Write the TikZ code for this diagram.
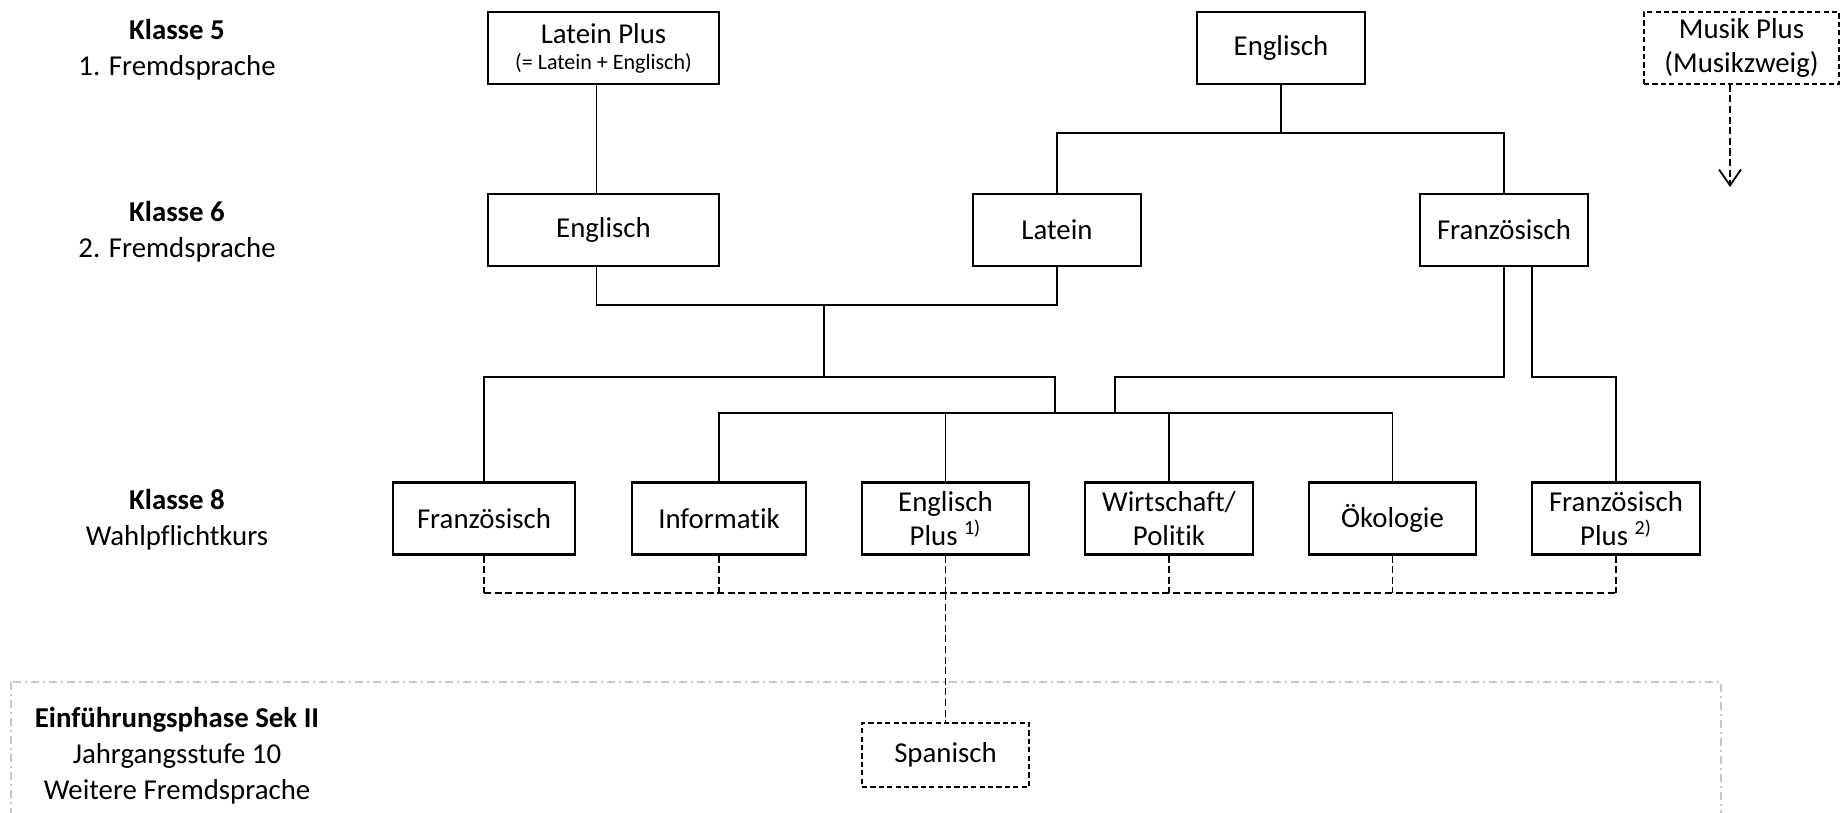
\documentclass[tikz,border=0pt]{standalone}
\usepackage{fontspec}
\setmainfont{Carlito}[Ligatures=NoCommon]
\usetikzlibrary{arrows.meta}

\begin{document}
\begin{tikzpicture}[x=0.5pt, y=-0.5pt,
  every node/.style={font=\fontsize{14.4}{17}\selectfont, align=center, inner sep=0pt},
  stufe/.style={font=\fontsize{14.4}{18}\selectfont},
  kurs/.style={draw, line width=1.1pt, minimum height=36pt},
  extra/.style={draw, line width=0.9pt, dash pattern=on 2.6pt off 1.6pt, minimum height=36pt},
  verb/.style={line width=0.9pt},
  optional/.style={verb, dash pattern=on 3.5pt off 1.8pt},
  sekII/.style={line width=0.7pt, draw=black!22, dash pattern=on 4pt off 2pt on 1pt off 2pt}]
  \clip (0,0) rectangle (1841,813);
  % Jahrgangsstufen
  \node[stufe] (k5) at (177,50) {\textbf{Klasse 5}\\1. Fremdsprache};
  \node[stufe] (k6) at (177,232) {\textbf{Klasse 6}\\2. Fremdsprache};
  \node[stufe] (k8) at (177,520) {\textbf{Klasse 8}\\Wahlpflichtkurs};
  \node[stufe] (sek) at (177,756) {\textbf{Einführungsphase Sek II}\\Jahrgangsstufe 10\\Weitere Fremdsprache};
  % Klasse 5
  \node[kurs, minimum width=115.5pt] (lp5) at (603.5,48) {Latein Plus\\[-4pt]{\fontsize{11}{13}\selectfont(= Latein + Englisch)}};
  \node[kurs, minimum width=84pt] (en5) at (1281,48) {Englisch};
  \node[extra, minimum width=97.5pt] (mu5) at (1741.5,48) {Musik Plus\\(Musikzweig)};
  % Klasse 6
  \node[kurs, minimum width=115.5pt] (en6) at (603.5,230) {Englisch};
  \node[kurs, minimum width=84pt] (la6) at (1057,230) {Latein};
  \node[kurs, minimum width=84pt] (fr6) at (1504,230) {Französisch};
  % Klasse 8
  \node[kurs, minimum width=91pt] (fr8) at (484,518.5) {Französisch};
  \node[kurs, minimum width=87pt] (in8) at (719,518.5) {Informatik};
  \node[kurs, minimum width=83.5pt] (ep8) at (945.5,518.5) {Englisch\\Plus \textsuperscript{1)}};
  \node[kurs, minimum width=84pt] (wp8) at (1169,518.5) {Wirtschaft/\\Politik};
  \node[kurs, minimum width=83.5pt] (ok8) at (1392.5,518.5) {Ökologie};
  \node[kurs, minimum width=84pt] (fp8) at (1616,518.5) {Französisch\\Plus \textsuperscript{2)}};
  % Sek II
  \node[extra, minimum width=83.5pt, minimum height=32pt] (sp) at (945.5,755) {Spanisch};
  \draw[sekII] (11,682) rectangle (1721,840);
  % Abzweigungen
  \coordinate (j5) at (1281,133);
  \coordinate (j6) at (824,305);
  \coordinate (j7) at (824,377);
  \coordinate (j8) at (1055,413);
  \coordinate (j9) at (1115,413);
  \coordinate (j10) at (945.5,593);
  \coordinate (mu6) at (1730,187);
  % Klasse 5 -> Klasse 6
  \draw[verb] ([xshift=-3.5pt]lp5.south) -- ([xshift=-3.5pt]en6.north);
  \draw[verb] (en5) -- (j5);
  \draw[verb] (la6.north) |- (j5) -| (fr6.north);
  \draw[optional, -{Straight Barb[length=8pt, width=11pt]}] (mu5.south -| mu6) -- (mu6);
  % Klasse 6 -> Klasse 8
  \draw[verb] ([xshift=-3.5pt]en6.south) |- (j6) -| (la6.south);
  \draw[verb] (j6) -- (j7);
  \draw[verb] (fr8.north) |- (j7) -| (j8);
  \draw[verb] (in8.north) |- (j8) -| (ok8.north);
  \draw[verb] (ep8.north) -- (ep8.north |- j8);
  \draw[verb] (wp8.north) -- (wp8.north |- j8);
  \draw[verb] (fr6.south) -- (fr6.south |- j7) -| (j9);
  \draw[verb] ([xshift=14pt]fr6.south) -- ([xshift=14pt]fr6.south |- j7) -| (fp8.north);
  % Klasse 8 -> Sek II
  \foreach \n in {fr8,in8,ep8,wp8,ok8,fp8}
    \draw[optional] (\n.south) -- (\n.south |- j10);
  \draw[optional] (fr8.south |- j10) -- (fp8.south |- j10);
  \draw[optional] (j10) -- (sp.north);
\end{tikzpicture}
\end{document}
